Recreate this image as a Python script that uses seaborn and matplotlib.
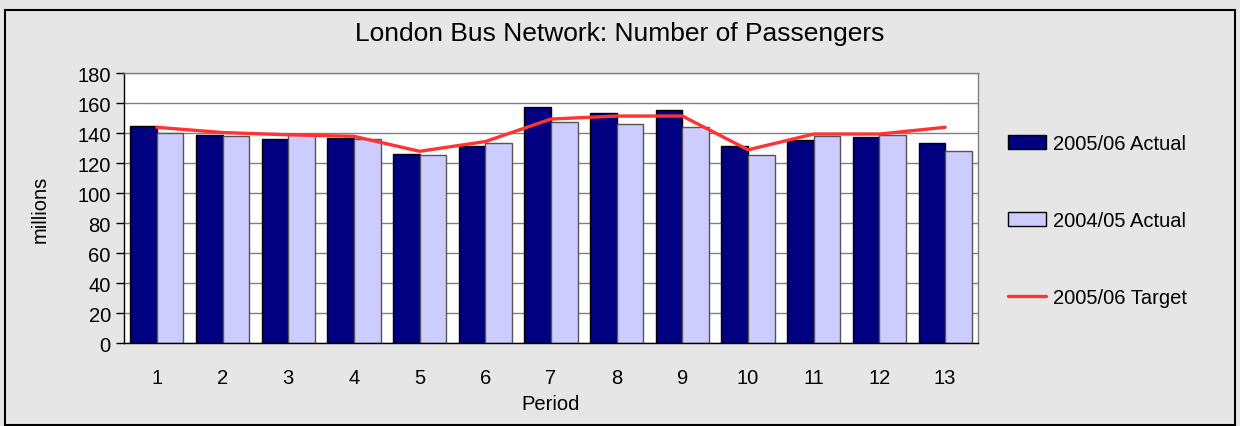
import numpy as np
import pandas as pd
import matplotlib
matplotlib.use("Agg")
import matplotlib.pyplot as plt
import seaborn as sns

# data (millions of passengers per period)
periods = [str(i) for i in range(1, 14)]
actual_0506 = [145, 139, 136, 137, 126, 131.5, 157.5, 153.5, 155.5, 131.5, 135.5, 137.5, 133.5]
actual_0405 = [140, 138, 139.5, 136, 125.5, 133.5, 147.5, 146.5, 144.5, 125.5, 138, 139, 128.5]
target_0506 = [144, 140.5, 139, 138, 128, 134.5, 149.5, 151.5, 151.5, 129, 139.5, 139.5, 144]
series_names = ["2005/06 Actual", "2004/05 Actual"]

df = pd.DataFrame({
    "Period": periods * 2,
    "millions": actual_0506 + actual_0405,
    "series": [series_names[0]] * 13 + [series_names[1]] * 13,
})

sns.set_theme(style="white")
plt.rcParams["font.family"] = ["Liberation Sans", "DejaVu Sans"]
plt.rcParams["text.color"] = "black"
plt.rcParams["axes.labelcolor"] = "black"
plt.rcParams["xtick.color"] = "black"
plt.rcParams["ytick.color"] = "black"

fig = plt.figure(figsize=(12.4, 4.27), dpi=100, facecolor="#e6e6e6")
ax = fig.add_axes([0.1, 0.1937, 0.6887, 0.6323])
ax.set_facecolor("white")

sns.barplot(data=df, x="Period", y="millions", hue="series", order=periods,
            hue_order=series_names, palette=["#000080", "#ccccff"],
            width=0.81, gap=0, saturation=1, edgecolor="black", linewidth=1,
            ax=ax)
# second series has a grey outline
for p in ax.containers[1]:
    p.set_edgecolor("#555555")

sns.lineplot(x=np.arange(len(periods)), y=target_0506, color="#ff3333",
             linewidth=2.4, label="2005/06 Target", ax=ax)

ax.set_xlim(-0.5, 12.5)
ax.set_ylim(0, 180)
ax.set_yticks(range(0, 181, 20))
ax.yaxis.grid(True, color="#808080", linewidth=1)
ax.set_axisbelow(True)

# x ticks sit between the categories, labels in the middle
ax.set_xticks(np.arange(-0.5, 13, 1), minor=False)
ax.set_xticklabels([])
ax.set_xticks(np.arange(0, 13), minor=True)
ax.set_xticklabels(periods, minor=True, fontsize=14.5)
ax.tick_params(axis="x", which="major", direction="out", length=6, width=1, color="black")
ax.tick_params(axis="x", which="minor", length=0, pad=17.5)
ax.tick_params(axis="y", direction="out", length=6, width=1, color="black",
               labelsize=14.5, left=True)

for side in ["top", "right"]:
    ax.spines[side].set_color("#808080")
for side in ["left", "bottom"]:
    ax.spines[side].set_color("black")
for s in ax.spines.values():
    s.set_linewidth(1)
    s.set_visible(True)

ax.set_xlabel("Period", fontsize=14.5, labelpad=5)
ax.set_ylabel("millions", fontsize=14.5, labelpad=20)
fig.text(0.5, 0.921, "London Bus Network: Number of Passengers",
         ha="center", va="center", fontsize=19)

handles, labels = ax.get_legend_handles_labels()
ax.legend(handles, labels, loc="center left", bbox_to_anchor=(1.035, 0.456),
          frameon=False, fontsize=14.5, labelspacing=2.88, handlelength=1.9,
          handletextpad=0.35, borderpad=0, borderaxespad=0)

# outer chart border
fig.patches.append(plt.Rectangle((0.004, 0.002), 0.992, 0.972, transform=fig.transFigure,
                                 fill=False, edgecolor="black", linewidth=1.5))

fig.savefig("out.png", dpi=100, facecolor=fig.get_facecolor())
